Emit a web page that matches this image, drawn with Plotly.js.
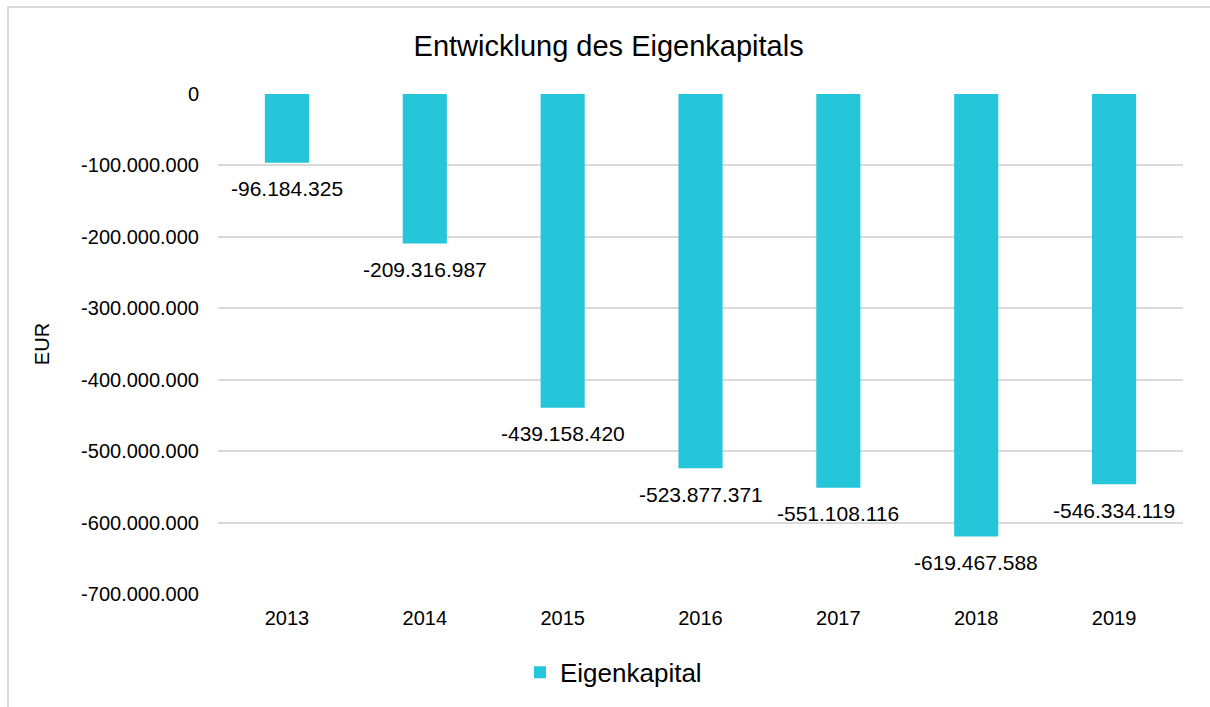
<!DOCTYPE html>
<html>
<head>
<meta charset="utf-8">
<script src="https://cdn.plot.ly/plotly-3.0.1.min.js"></script>
<style>
  html, body { margin: 0; padding: 0; background: #fff; overflow: hidden; }
  #frame { position: absolute; left: 7px; top: 6px; width: 1240px; height: 740px; border: 2px solid #d9d9d9; box-sizing: border-box; }
  #chart { position: absolute; left: 0; top: 0; width: 1210px; height: 707px; }
</style>
</head>
<body>
<div id="frame"></div>
<div id="chart"></div>
<script>
const years = ['2013', '2014', '2015', '2016', '2017', '2018', '2019'];
const eigenkapital = [-96184325, -209316987, -439158420, -523877371, -551108116, -619467588, -546334119];
const yTicks = [0, -100000000, -200000000, -300000000, -400000000, -500000000, -600000000, -700000000];

const FONT = 'Liberation Sans, Arial, Helvetica, sans-serif';

function deFormat(v) {
  const s = Math.abs(v).toString().replace(/\B(?=(\d{3})+(?!\d))/g, '.');
  return (v < 0 ? '-' : '') + s;
}

const trace = {
  type: 'bar',
  x: years,
  y: eigenkapital,
  name: 'Eigenkapital',
  marker: { color: '#26C6DA' },
  hoverinfo: 'none'
};

const annotations = years.map((yr, i) => ({
  x: i, y: eigenkapital[i], xref: 'x', yref: 'y',
  text: deFormat(eigenkapital[i]),
  showarrow: false, yanchor: 'middle', yshift: -26,
  font: { family: FONT, size: 21, color: '#000' }
}));

const layout = {
  width: 1210, height: 707,
  paper_bgcolor: 'rgba(0,0,0,0)',
  plot_bgcolor: 'rgba(0,0,0,0)',
  margin: { l: 218, r: 27, t: 94, b: 113 },
  title: { text: 'Entwicklung des Eigenkapitals', x: 0.503, xanchor: 'center', y: 0.935, yanchor: 'middle',
           font: { family: FONT, size: 29, color: '#000' } },
  bargap: 0.68,
  xaxis: { type: 'category', range: [-0.5, 6.5], autorange: false, showgrid: false, zeroline: false, showline: false,
           ticks: 'outside', ticklen: 6, tickcolor: 'rgba(0,0,0,0)',
           tickfont: { family: FONT, size: 20, color: '#000' } },
  yaxis: { range: [-700000000, 0], autorange: false, tickmode: 'array', tickvals: yTicks, ticktext: yTicks.map(deFormat),
           showgrid: true, gridcolor: '#d9d9d9', gridwidth: 2,
           zeroline: false, showline: false, ticks: 'outside', ticklen: 14, tickcolor: 'rgba(0,0,0,0)',
           tickfont: { family: FONT, size: 20, color: '#000' },
           title: { text: 'EUR', font: { family: FONT, size: 20, color: '#000' }, standoff: 26 } },
  showlegend: true,
  legend: { orientation: 'h', xref: 'container', yref: 'container', x: 0.507, xanchor: 'center', y: 0.049, yanchor: 'middle',
            font: { family: FONT, size: 26, color: '#000' } },
  annotations: annotations
};

Plotly.newPlot('chart', [trace], layout, { displayModeBar: false, staticPlot: true });
</script>
</body>
</html>
